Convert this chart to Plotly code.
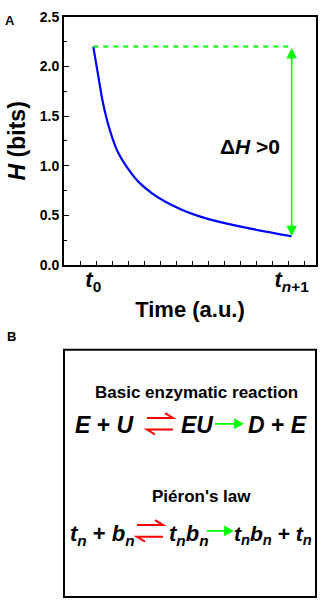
import plotly.graph_objects as go

# ---- data (panel A) ----
time_au = [1.83, 2.25, 2.39, 2.67, 2.98, 3.39, 4.02, 4.64, 5.48, 6.31, 7.25, 8.19, 9.33, 11.42, 14.23]
entropy_bits = [2.20, 1.80, 1.67, 1.47, 1.30, 1.13, 0.965, 0.84, 0.725, 0.64, 0.565, 0.505, 0.45, 0.375, 0.29]
x_tick_labels = ["<i>t</i><sub>0</sub>", "<i>t</i><sub><i>n</i>+1</sub>"]
y_tick_values = [0.0, 0.5, 1.0, 1.5, 2.0, 2.5]

W, H = 323, 609
def px(x):
    return x / W
def py(y):
    return 1 - y / H

FONT = "Liberation Sans, Arial, sans-serif"

fig = go.Figure()
fig.add_trace(go.Scatter(x=time_au, y=entropy_bits, mode="lines",
                         line=dict(color="#0000FF", width=2.2, shape="spline", smoothing=1.0),
                         showlegend=False, hoverinfo="skip"))
fig.add_trace(go.Scatter(x=[time_au[0], time_au[-1]], y=[entropy_bits[0], entropy_bits[0]],
                         mode="lines", line=dict(color="#00FF00", width=2, dash="5px,5px"),
                         showlegend=False, hoverinfo="skip"))

annotations = []
# double arrow Delta H
annotations.append(dict(x=time_au[-1], y=entropy_bits[-1], ax=time_au[-1], ay=entropy_bits[0],
                        xref="x", yref="y", axref="x", ayref="y", text="", showarrow=True,
                        arrowhead=2, startarrowhead=2, arrowside="end+start", arrowsize=1.3,
                        startarrowsize=1.3, arrowwidth=1.6, arrowcolor="#00FF00"))

def txt(x, y, s, size, anchor="center", angle=0):
    annotations.append(dict(x=px(x), y=py(y), xref="paper", yref="paper", text=s,
                            showarrow=False, xanchor=anchor, yanchor="middle", textangle=angle,
                            font=dict(family=FONT, size=size, color="black")))

txt(250, 142, "<b>Δ<i>H</i> >0</b>", 21)
# y-axis title
txt(17, 137, "<b><i>H</i> (bits)</b>", 23, angle=-90)
# panel labels
txt(10, 13, "<b>A</b>", 13)
txt(11, 337, "<b>B</b>", 13)

# panel B texts
txt(196, 395, "<b>Basic enzymatic reaction</b>", 17)
txt(137, 428, "<b><i>E</i> + <i>U</i></b>", 23, "right")
txt(179, 428, "<b><i>EU</i></b>", 23, "left")
txt(246, 428, "<b><i>D</i> + <i>E</i></b>", 23, "left")
txt(201, 502, "<b>Piéron's law</b>", 17)
txt(137, 541, "<b><i>t</i><sub><i>n</i></sub> + <i>b</i><sub><i>n</i></sub></b>", 22, "right")
txt(167, 541, "<b><i>t</i><sub><i>n</i></sub><i>b</i><sub><i>n</i></sub></b>", 22, "left")
txt(232, 541, "<b><i>t</i><sub><i>n</i></sub><i>b</i><sub><i>n</i></sub> + <i>t</i><sub><i>n</i></sub></b>", 21, "left")

shapes = []
# panel B frame
shapes.append(dict(type="rect", xref="paper", yref="paper", x0=px(64), x1=px(316),
                   y0=py(605), y1=py(351), line=dict(color="black", width=2)))

def harpoon_right(x0, x1, y, color):
    return dict(type="path", xref="paper", yref="paper",
                path=f"M{px(x0)},{py(y)} L{px(x1)},{py(y)} L{px(x1-8)},{py(y-5)}",
                line=dict(color=color, width=2))
def harpoon_left(x0, x1, y, color):
    return dict(type="path", xref="paper", yref="paper",
                path=f"M{px(x1)},{py(y)} L{px(x0)},{py(y)} L{px(x0+8)},{py(y+5)}",
                line=dict(color=color, width=2))
def arrow_right(x0, x1, y, color):
    return dict(type="path", xref="paper", yref="paper",
                path=f"M{px(x0)},{py(y)} L{px(x1-6)},{py(y)} M{px(x1-7)},{py(y-4)} L{px(x1)},{py(y)} L{px(x1-7)},{py(y+4)} Z",
                line=dict(color=color, width=1.8), fillcolor=color)

shapes += [harpoon_right(147, 173, 421, "#FF0000"), harpoon_left(147, 173, 433, "#FF0000"),
           arrow_right(215, 242, 427, "#00FF00"),
           harpoon_right(137, 163, 531, "#FF0000"), harpoon_left(137, 163, 543, "#FF0000"),
           arrow_right(207, 232, 537, "#00FF00")]

fig.update_layout(
    width=W, height=H, margin=dict(l=0, r=0, t=0, b=0),
    paper_bgcolor="white", plot_bgcolor="white",
    annotations=annotations, shapes=shapes,
    xaxis=dict(domain=[px(64), px(316)], range=[0, 15.75],
               tickmode="array", tickvals=[time_au[0], time_au[-1]], ticktext=x_tick_labels,
               ticks="", ticklen=0, ticklabelstandoff=-6, showgrid=False, zeroline=False,
               showline=True, linecolor="black", linewidth=2, mirror=True,
               tickfont=dict(family=FONT, size=22, color="black", weight="bold"),
               minor=dict(tickmode="array", tickvals=list(range(1, 16)), ticks="inside",
                          ticklen=4, tickwidth=1.2, tickcolor="black", showgrid=False),
               title=dict(text="<b>Time (a.u.)</b>", standoff=8,
                          font=dict(family=FONT, size=22, color="black"))),
    yaxis=dict(domain=[py(264), py(9)], range=[0, 2.5],
               tickmode="array", tickvals=y_tick_values,
               ticktext=[f"{v:.1f}" for v in y_tick_values],
               ticks="inside", ticklen=5, tickwidth=1.2, tickcolor="black",
               showgrid=False, zeroline=False,
               showline=True, linecolor="black", linewidth=2, mirror=True,
               tickfont=dict(family=FONT, size=14, color="black", weight="bold"),
               minor=dict(tickmode="array", tickvals=[0.25, 0.75, 1.25, 1.75, 2.25],
                          ticks="inside", ticklen=3, tickwidth=1.2, tickcolor="black",
                          showgrid=False)),
)

fig.write_html("out.html", config={"displayModeBar": False},
               post_script="document.body.style.margin='0px';")
